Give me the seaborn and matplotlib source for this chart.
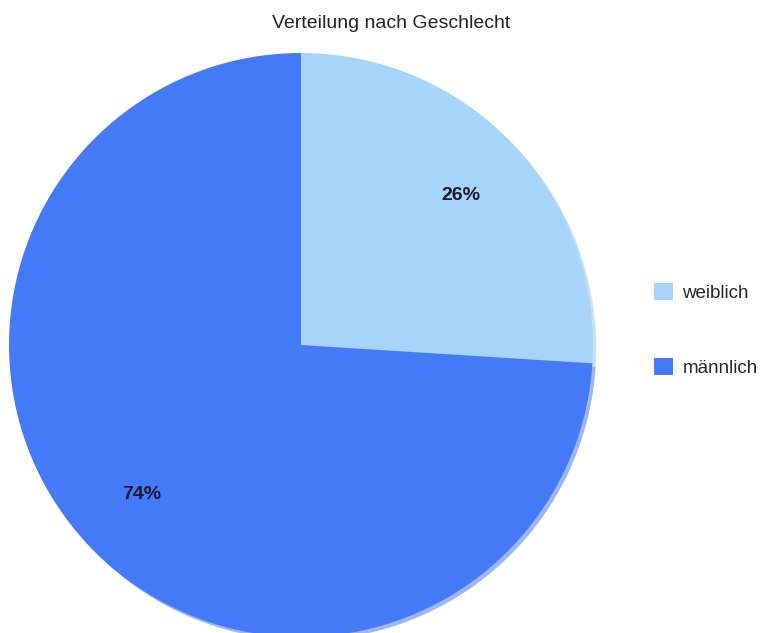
import matplotlib
matplotlib.use("Agg")
import matplotlib.pyplot as plt
import seaborn as sns
from matplotlib.patches import Patch

sns.set_theme(style="white")
plt.rcParams['font.family'] = ['Liberation Sans', 'DejaVu Sans']

categories = ["weiblich", "männlich"]
values = [26, 74]
colors = ["#a6d4fb", "#4479f8"]
title = "Verteilung nach Geschlecht"

W, H = 766, 633
fig = plt.figure(figsize=(W / 100, H / 100), dpi=100)
fig.patch.set_facecolor("white")

cx, cy, r = 301, 345, 292
ax = fig.add_axes([(cx - r) / W, (H - cy - r) / H, 2 * r / W, 2 * r / H])
wedges, texts, autotexts = ax.pie(
    values, colors=colors, startangle=90, counterclock=False, radius=1,
    autopct=lambda p: f"{p:.0f}%", pctdistance=0.75,
    wedgeprops=dict(linewidth=0),
    shadow=dict(ox=0.008, oy=-0.008, shade=0.08),
    textprops=dict(fontsize=14, fontweight="bold", color="#1a1a2a"),
)
ax.set_xlim(-1, 1)
ax.set_ylim(-1, 1)
ax.set_aspect("equal")
ax.axis("off")
for p in ax.patches:
    p.set_clip_on(False)

fig.text(391 / W, 1 - 23 / H, title, ha="center", va="center", fontsize=14, color="#222222")

handles = [Patch(facecolor=c, edgecolor="none") for c in colors]
fig.legend(handles, categories, loc="upper left", bbox_to_anchor=(645 / W, 1 - 274 / H),
           frameon=False, fontsize=13.5, handlelength=1.0, handleheight=1.0,
           handletextpad=0.5, labelspacing=3.0, borderpad=0)

fig.savefig("out.png", dpi=100)
